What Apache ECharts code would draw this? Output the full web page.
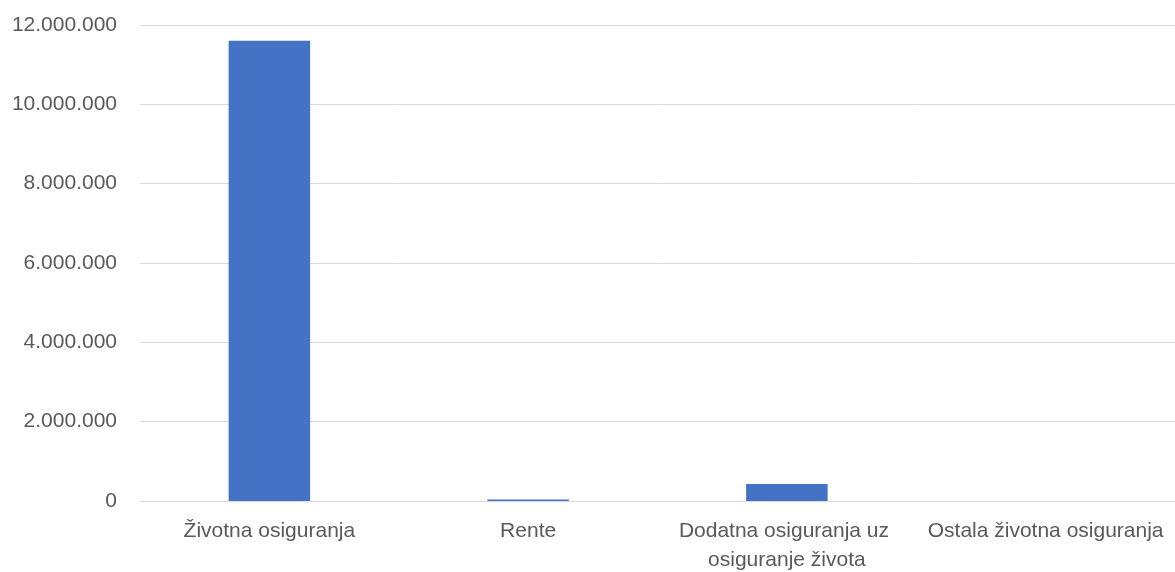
<!DOCTYPE html>
<html>
<head>
<meta charset="utf-8">
<script src="https://cdn.jsdelivr.net/npm/echarts@6/dist/echarts.min.js"></script>
<style>
html,body{margin:0;padding:0;background:#fff;}
#chart{width:1175px;height:572px;}
</style>
</head>
<body>
<div id="chart"></div>
<script>
const categories = ["Životna osiguranja", "Rente", "Dodatna osiguranja uz osiguranje života", "Ostala životna osiguranja"];
const values = [11600000, 40000, 430000, 0];
const yTicks = { min: 0, max: 12000000, interval: 2000000 };

const chart = echarts.init(document.getElementById('chart'), null, { renderer: 'canvas' });
chart.setOption({
  animation: false,
  textStyle: { fontFamily: 'Liberation Sans' },
  grid: { left: 140, right: 0, top: 25, bottom: 71, containLabel: false, outerBoundsMode: 'none' },
  xAxis: {
    type: 'category',
    data: categories,
    axisLine: { show: true, lineStyle: { color: '#d9d9d9', width: 1 } },
    axisTick: { show: false },
    axisLabel: {
      interval: 0,
      color: '#595959',
      fontSize: 21,
      fontFamily: 'Liberation Sans',
      margin: 16,
      width: 250,
      overflow: 'break',
      lineHeight: 29
    }
  },
  yAxis: {
    type: 'value',
    min: yTicks.min,
    max: yTicks.max,
    interval: yTicks.interval,
    axisLine: { show: false },
    axisTick: { show: false },
    splitLine: { lineStyle: { color: '#d9d9d9', width: 1 } },
    axisLabel: {
      color: '#595959',
      fontSize: 21,
      fontFamily: 'Liberation Sans',
      margin: 23,
      formatter: function (v) {
        return String(v).replace(/\B(?=(\d{3})+(?!\d))/g, '.');
      }
    }
  },
  series: [{
    type: 'bar',
    data: values,
    barWidth: '31.5%',
    itemStyle: { color: '#4472c4' }
  }]
});
</script>
</body>
</html>
